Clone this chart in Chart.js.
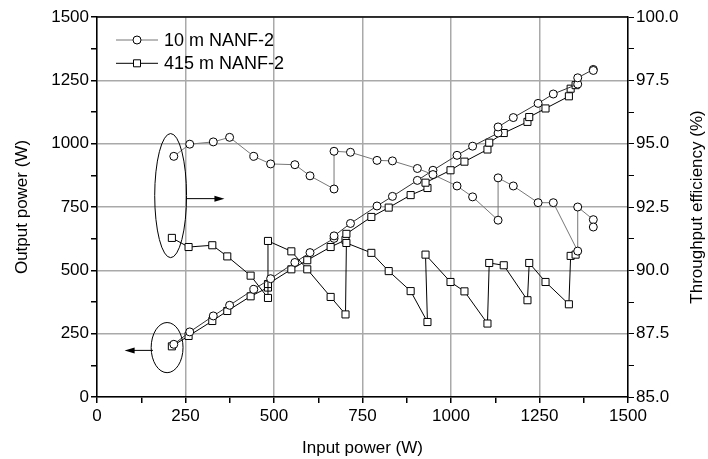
<!DOCTYPE html>
<html>
<head>
<meta charset="utf-8">
<script src="https://cdn.jsdelivr.net/npm/chart.js@4"></script>
<style>
    html, body { margin: 0; padding: 0; background: #fff; }
    #wrap { width: 708px; height: 459px; }
</style>
</head>
<body>
<div id="wrap"><canvas id="powerChart" width="708" height="459"></canvas></div>
<script>
const seriesNames = ['10 m NANF-2', '415 m NANF-2'];

const inputPower10m = [217, 262, 328.5, 374.6, 443, 490.5, 559, 601.7, 669.6, 669.6, 716, 791, 834.6, 905, 949, 1017, 1061, 1133, 1133, 1176, 1246, 1289, 1358, 1358, 1402, 1402];
const outputPower10m = [208, 257, 320, 362, 425, 467, 531, 570, 626, 636, 685, 754, 792, 855, 895, 954, 990, 1042, 1066, 1103, 1159, 1196, 1235, 1260, 1293, 1289];
const efficiency10m = [94.50, 94.98, 95.07, 95.25, 94.50, 94.20, 94.17, 93.73, 93.21, 94.70, 94.66, 94.34, 94.32, 94.02, 93.78, 93.33, 92.90, 91.98, 93.65, 93.33, 92.67, 92.67, 90.76, 92.50, 92.00, 91.71];

const inputPower415m = [211.5, 258.7, 325.7, 368, 434, 483, 483, 549, 594, 660, 702, 704.5, 775, 824, 886, 933.5, 928, 998.6, 1038, 1103, 1108, 1149, 1216, 1221, 1267, 1333, 1338, 1352];
const outputPower415m = [200, 241, 300, 339.5, 397.5, 432, 446, 504, 540, 592, 620, 644, 710.7, 747.6, 797, 825, 846, 895, 929, 977, 1004, 1042, 1086, 1105, 1139, 1187, 1217, 1231];
const efficiency415m = [91.28, 90.92, 90.99, 90.55, 89.79, 88.91, 91.16, 90.75, 90.04, 88.95, 88.26, 91.08, 90.69, 89.97, 89.18, 87.96, 90.62, 89.54, 89.17, 87.90, 90.29, 90.20, 88.82, 90.29, 89.54, 88.66, 90.57, 90.62];

// Axis ranges / tick steps
const xRange = [0, 1500];
const powerRange = [0, 1500];
const effRange = [85, 100];
const majorStep = 250;
const effMajorStep = 2.5;
const effTitle = 'Throughput efficiency (%)';

// Ellipse + arrow callouts (data units)
const callouts = [
    { axis: 'y2', cx: 208, cy: 92.95, rx: 45, ry: 2.45, from: 253, to: 360, at: 92.83 },
    { axis: 'y', cx: 198, cy: 195, rx: 45, ry: 99, from: 158, to: 78, at: 184 }
];

const FONT = '"Liberation Sans", Arial, Helvetica, sans-serif';
const GRID = '#a9a9a9';

const pairs = (xs, ys) => xs.map((x, i) => ({ x: x, y: ys[i] }));

function lineSet(label, data, axis, style, lineColor) {
    return {
        label: label,
        data: data,
        yAxisID: axis,
        showLine: true,
        borderColor: lineColor,
        borderWidth: 1,
        pointStyle: style,
        pointRadius: style === 'circle' ? 4 : 5,
        pointBorderColor: '#000',
        pointBackgroundColor: '#fff',
        pointBorderWidth: 1,
        tension: 0
    };
}

const minorTicks = (step, major) => ({
    stepSize: step,
    autoSkip: false,
    maxRotation: 0,
    color: '#000',
    font: { family: FONT, size: 17 },
    callback: v => {
        const k = v / major;
        return Math.abs(k - Math.round(k)) < 1e-6 ? String(v) : '';
    }
});

const calloutPlugin = {
    id: 'callouts',
    afterDatasetsDraw(chart) {
        const ctx = chart.ctx;
        const xs = chart.scales.x;
        ctx.save();
        ctx.strokeStyle = '#000';
        ctx.fillStyle = '#000';
        ctx.lineWidth = 1;
        callouts.forEach(c => {
            const ys = chart.scales[c.axis];
            const px = xs.getPixelForValue(c.cx);
            const py = ys.getPixelForValue(c.cy);
            const rx = Math.abs(xs.getPixelForValue(c.cx + c.rx) - px);
            const ry = Math.abs(ys.getPixelForValue(c.cy + c.ry) - py);
            ctx.beginPath();
            ctx.ellipse(px, py, rx, ry, 0, 0, Math.PI * 2);
            ctx.stroke();

            const x0 = xs.getPixelForValue(c.from);
            const x1 = xs.getPixelForValue(c.to);
            const ay = ys.getPixelForValue(c.at);
            const dir = Math.sign(x1 - x0);
            ctx.beginPath();
            ctx.moveTo(x0, ay);
            ctx.lineTo(x1 - dir * 6, ay);
            ctx.stroke();
            ctx.beginPath();
            ctx.moveTo(x1, ay);
            ctx.lineTo(x1 - dir * 10, ay - 3);
            ctx.lineTo(x1 - dir * 10, ay + 3);
            ctx.closePath();
            ctx.fill();
        });
        ctx.restore();
    }
};

// Top frame line, right-axis title (reads bottom-to-top) and legend
const framePlugin = {
    id: 'frame',
    afterDraw(chart) {
        const ctx = chart.ctx;
        const a = chart.chartArea;
        ctx.save();
        ctx.strokeStyle = '#000';
        ctx.lineWidth = 1.5;
        ctx.beginPath();
        ctx.moveTo(a.left, a.top);
        ctx.lineTo(a.right, a.top);
        ctx.stroke();

        ctx.save();
        ctx.translate(chart.width - 11, (a.top + a.bottom) / 2);
        ctx.rotate(-Math.PI / 2);
        ctx.fillStyle = '#000';
        ctx.font = '17px ' + FONT;
        ctx.textAlign = 'center';
        ctx.textBaseline = 'middle';
        ctx.fillText(effTitle, 0, 0);
        ctx.restore();

        const items = [chart.data.datasets[0], chart.data.datasets[2]];
        items.forEach((ds, i) => {
            const y = a.top + 23 + i * 23.3;
            const x0 = a.left + 19;
            ctx.strokeStyle = ds.borderColor;
            ctx.lineWidth = 1;
            ctx.beginPath();
            ctx.moveTo(x0, y);
            ctx.lineTo(x0 + 42, y);
            ctx.stroke();
            ctx.fillStyle = '#fff';
            ctx.strokeStyle = '#000';
            ctx.beginPath();
            if (ds.pointStyle === 'circle') {
                ctx.arc(x0 + 21, y, 4, 0, Math.PI * 2);
            } else {
                ctx.rect(x0 + 17.5, y - 3.5, 7, 7);
            }
            ctx.fill();
            ctx.stroke();
            ctx.fillStyle = '#000';
            ctx.font = '18px ' + FONT;
            ctx.textBaseline = 'middle';
            ctx.fillText(seriesNames[i], x0 + 48, y + 1);
        });
        ctx.restore();
    }
};

const ctx = document.getElementById('powerChart').getContext('2d');
new Chart(ctx, {
    type: 'scatter',
    data: {
        datasets: [
            lineSet(seriesNames[0], pairs(inputPower10m, efficiency10m), 'y2', 'circle', '#777'),
            lineSet(seriesNames[0], pairs(inputPower10m, outputPower10m), 'y', 'circle', '#333'),
            lineSet(seriesNames[1], pairs(inputPower415m, efficiency415m), 'y2', 'rect', '#000'),
            lineSet(seriesNames[1], pairs(inputPower415m, outputPower415m), 'y', 'rect', '#000')
        ]
    },
    options: {
        responsive: false,
        animation: false,
        layout: { padding: { top: 17, left: 0, right: 0, bottom: 0 } },
        plugins: { legend: { display: false }, tooltip: { enabled: false } },
        scales: {
            x: {
                type: 'linear',
                min: xRange[0], max: xRange[1],
                ticks: Object.assign(minorTicks(125, majorStep), { padding: 3 }),
                grid: {
                    color: c => (c.tick && c.tick.value % majorStep === 0) ? GRID : 'rgba(0,0,0,0)',
                    lineWidth: 1.5,
                    tickColor: '#000',
                    tickLength: 6
                },
                border: { color: '#000', width: 1.5 },
                title: { display: true, text: 'Input power (W)', color: '#000', font: { family: FONT, size: 17 }, padding: { top: 0, bottom: 0 } },
                afterFit: s => { s.height = 62; }
            },
            y: {
                type: 'linear',
                position: 'left',
                min: powerRange[0], max: powerRange[1],
                ticks: Object.assign(minorTicks(125, majorStep), { padding: 2 }),
                grid: {
                    color: c => (c.tick && c.tick.value % majorStep === 0) ? GRID : 'rgba(0,0,0,0)',
                    lineWidth: 1.5,
                    tickColor: '#000',
                    tickLength: 6
                },
                border: { color: '#000', width: 1.5 },
                title: { display: true, text: 'Output power (W)', color: '#000', font: { family: FONT, size: 17 }, padding: { top: 12, bottom: 0 } },
                afterFit: s => { s.width = 97; }
            },
            y2: {
                type: 'linear',
                position: 'right',
                min: effRange[0], max: effRange[1],
                ticks: {
                    stepSize: 1.25,
                    autoSkip: false,
                    padding: 2,
                    color: '#000',
                    font: { family: FONT, size: 17 },
                    callback: v => {
                        const k = (v - effRange[0]) / effMajorStep;
                        return Math.abs(k - Math.round(k)) < 1e-6 ? v.toFixed(1) : '';
                    }
                },
                grid: { drawOnChartArea: false, tickColor: '#000', tickLength: 6 },
                border: { color: '#000', width: 1.5 },
                afterFit: s => { s.width = 80; }
            }
        }
    },
    plugins: [calloutPlugin, framePlugin]
});
</script>
</body>
</html>
